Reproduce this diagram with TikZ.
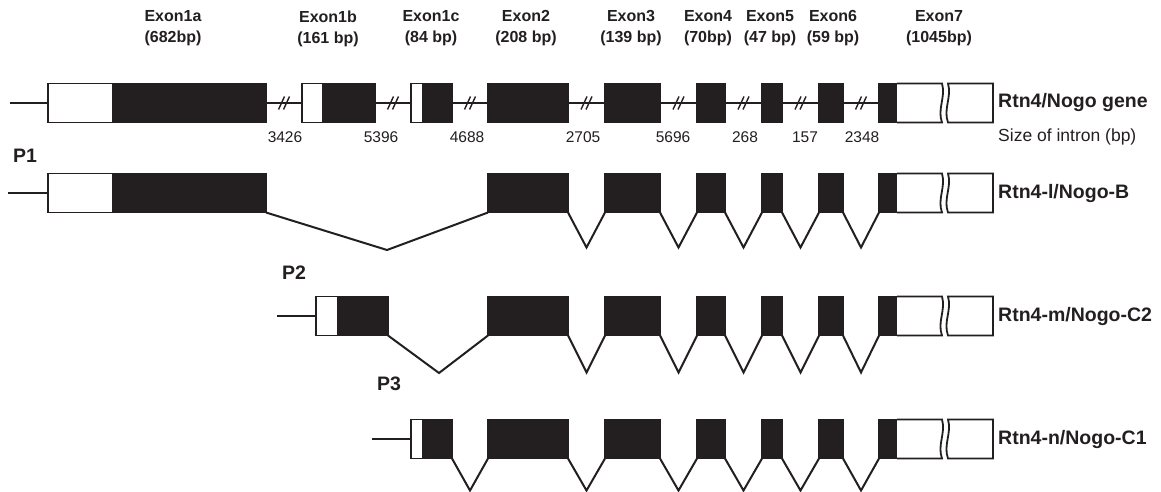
\documentclass[tikz,border=0pt]{standalone}
\usepackage{fontspec}
\setmainfont{Liberation Sans}
\usetikzlibrary{calc}
\definecolor{ink}{HTML}{231F20}

% exon boxes: coding part (filled) and untranslated part (open)
\newcommand\cdsbox[4]{\node[cds, minimum width={(#3-#2)*1pt}] (#1) at ({(#2+#3)/2},#4) {};}
\newcommand\utrbox[4]{\node[utr, minimum width={(#3-#2)*1pt}] (#1) at ({(#2+#3)/2},#4) {};}
% last exon with the broken 3' UTR
\newcommand\lastexon[2]{%
  \cdsbox{#1e7}{879}{897}{#2}
  \draw[ink, fill=white, line width=1.8pt] (#1e7.north east) -- (942,{#2-19.5})
    .. controls (946,{#2-6}) and (937,{#2+6}) .. (942,{#2+19.5}) -- (#1e7.south east);
  \draw[ink, fill=white, line width=1.8pt] (948,{#2-19.5}) -- (993,{#2-19.5}) -- (993,{#2+19.5})
    -- (948,{#2+19.5}) .. controls (943,{#2+6}) and (952,{#2-6}) .. (948,{#2-19.5}) -- cycle;
}

\begin{document}
\begin{tikzpicture}[x=1pt,y=-1pt,
  lw/.style={ink, line width=2pt},
  cds/.style={draw=ink, fill=ink, line width=1.8pt, rectangle, inner sep=0pt, outer sep=0pt, minimum height=39pt},
  utr/.style={draw=ink, fill=white, line width=1.8pt, rectangle, inner sep=0pt, outer sep=0pt, minimum height=39pt},
  exlab/.style={align=center, text=ink, font=\bfseries\fontsize{16}{21}\selectfont, inner sep=0pt},
  rowlab/.style={anchor=west, text=ink, font=\bfseries\fontsize{19.5}{22}\selectfont, inner sep=0pt},
  plab/.style={text=ink, font=\bfseries\fontsize{19.5}{22}\selectfont, inner sep=0pt},
  num/.style={text=ink, font=\fontsize{15.5}{18}\selectfont, inner sep=0pt},
]
\useasboundingbox (0,0) rectangle (1161,492);

% exon names and sizes
\node[exlab] (l1a) at (173,28.5) {Exon1a\\(682bp)};
\node[exlab] (l1b) at (328,28.5) {Exon1b\\(161 bp)};
\node[exlab] (l1c) at (431,28.5) {Exon1c\\(84 bp)};
\node[exlab] (l2)  at (526,28.5) {Exon2\\(208 bp)};
\node[exlab] (l3)  at (631,28.5) {Exon3\\(139 bp)};
\node[exlab] (l4)  at (708,28.5) {Exon4\\(70bp)};
\node[exlab] (l5)  at (770,28.5) {Exon5\\(47 bp)};
\node[exlab] (l6)  at (833,28.5) {Exon6\\(59 bp)};
\node[exlab] (l7)  at (939,28.5) {Exon7\\(1045bp)};

% ---- genomic structure ----
\coordinate (r1s) at (10,103);
\utrbox{r1e1au}{48}{113}{103} \cdsbox{r1e1a}{113}{266}{103}
\utrbox{r1e1bu}{302}{323}{103} \cdsbox{r1e1b}{323}{375}{103}
\utrbox{r1e1cu}{411}{423}{103} \cdsbox{r1e1c}{423}{452}{103}
\cdsbox{r1e2}{488}{568}{103}
\cdsbox{r1e3}{605}{660}{103}
\cdsbox{r1e4}{697}{725}{103}
\cdsbox{r1e5}{762}{782}{103}
\cdsbox{r1e6}{819}{843}{103}
\lastexon{r1}{103}
\draw[lw] (r1s) -- (r1e1au.west);
\foreach \a/\b in {r1e1a/r1e1bu, r1e1b/r1e1cu, r1e1c/r1e2, r1e2/r1e3, r1e3/r1e4, r1e4/r1e5, r1e5/r1e6, r1e6/r1e7}{
  \draw[lw] (\a.east) -- (\b.west) coordinate[midway] (m);
  \draw[ink, line width=1.4pt] ($(m)+(-5.5,6.5)$) -- ($(m)+(0.5,-6.5)$) ($(m)+(-0.5,6.5)$) -- ($(m)+(5.5,-6.5)$);
}
\node[rowlab] (n1) at (998,103) {Rtn4/Nogo gene};

% intron sizes
\node[num] (i1) at (285,137) {3426};
\node[num] (i2) at (381,137) {5396};
\node[num] (i3) at (467,137) {4688};
\node[num] (i4) at (583,137) {2705};
\node[num] (i5) at (673,137) {5696};
\node[num] (i6) at (745,137) {268};
\node[num] (i7) at (805,137) {157};
\node[num] (i8) at (862,137) {2348};
\node[num, anchor=west, font=\fontsize{17.5}{18}\selectfont] (isz) at (998,137) {Size of intron (bp)};

% ---- Rtn4-l / Nogo-B (promoter P1) ----
\node[plab] (p1) at (25,156) {P1};
\coordinate (r2s) at (8,193);
\utrbox{r2e1au}{48}{113}{193} \cdsbox{r2e1a}{113}{266}{193}
\cdsbox{r2e2}{488}{568}{193}
\cdsbox{r2e3}{605}{660}{193}
\cdsbox{r2e4}{697}{725}{193}
\cdsbox{r2e5}{762}{782}{193}
\cdsbox{r2e6}{819}{843}{193}
\lastexon{r2}{193}
\draw[lw] (r2s) -- (r2e1au.west);
\draw[lw] (r2e1a.south east) -- (387,250) -- (r2e2.south west);
\foreach \a/\b in {r2e2/r2e3, r2e3/r2e4, r2e4/r2e5, r2e5/r2e6, r2e6/r2e7}
  \draw[lw] (\a.south east) -- ($(\a.south east)!0.5!(\b.south west)+(0,35)$) -- (\b.south west);
\node[rowlab] (n2) at (998,193) {Rtn4-l/Nogo-B};

% ---- Rtn4-m / Nogo-C2 (promoter P2) ----
\node[plab] (p2) at (294,273) {P2};
\coordinate (r3s) at (277,316);
\utrbox{r3e1bu}{316}{338}{316} \cdsbox{r3e1b}{338}{388}{316}
\cdsbox{r3e2}{488}{568}{316}
\cdsbox{r3e3}{605}{660}{316}
\cdsbox{r3e4}{697}{725}{316}
\cdsbox{r3e5}{762}{782}{316}
\cdsbox{r3e6}{819}{843}{316}
\lastexon{r3}{316}
\draw[lw] (r3s) -- (r3e1bu.west);
\draw[lw] (r3e1b.south east) -- (439,373) -- (r3e2.south west);
\foreach \a/\b in {r3e2/r3e3, r3e3/r3e4, r3e4/r3e5, r3e5/r3e6, r3e6/r3e7}
  \draw[lw] (\a.south east) -- ($(\a.south east)!0.5!(\b.south west)+(0,37)$) -- (\b.south west);
\node[rowlab] (n3) at (998,316) {Rtn4-m/Nogo-C2};

% ---- Rtn4-n / Nogo-C1 (promoter P3) ----
\node[plab] (p3) at (389,384) {P3};
\coordinate (r4s) at (372,439);
\utrbox{r4e1cu}{411}{423}{439} \cdsbox{r4e1c}{423}{452}{439}
\cdsbox{r4e2}{488}{568}{439}
\cdsbox{r4e3}{605}{660}{439}
\cdsbox{r4e4}{697}{725}{439}
\cdsbox{r4e5}{762}{782}{439}
\cdsbox{r4e6}{819}{843}{439}
\lastexon{r4}{439}
\draw[lw] (r4s) -- (r4e1cu.west);
\foreach \a/\b in {r4e1c/r4e2, r4e2/r4e3, r4e3/r4e4, r4e4/r4e5, r4e5/r4e6, r4e6/r4e7}
  \draw[lw] (\a.south east) -- ($(\a.south east)!0.5!(\b.south west)+(0,32)$) -- (\b.south west);
\node[rowlab] (n4) at (998,439) {Rtn4-n/Nogo-C1};
\end{tikzpicture}
\end{document}
